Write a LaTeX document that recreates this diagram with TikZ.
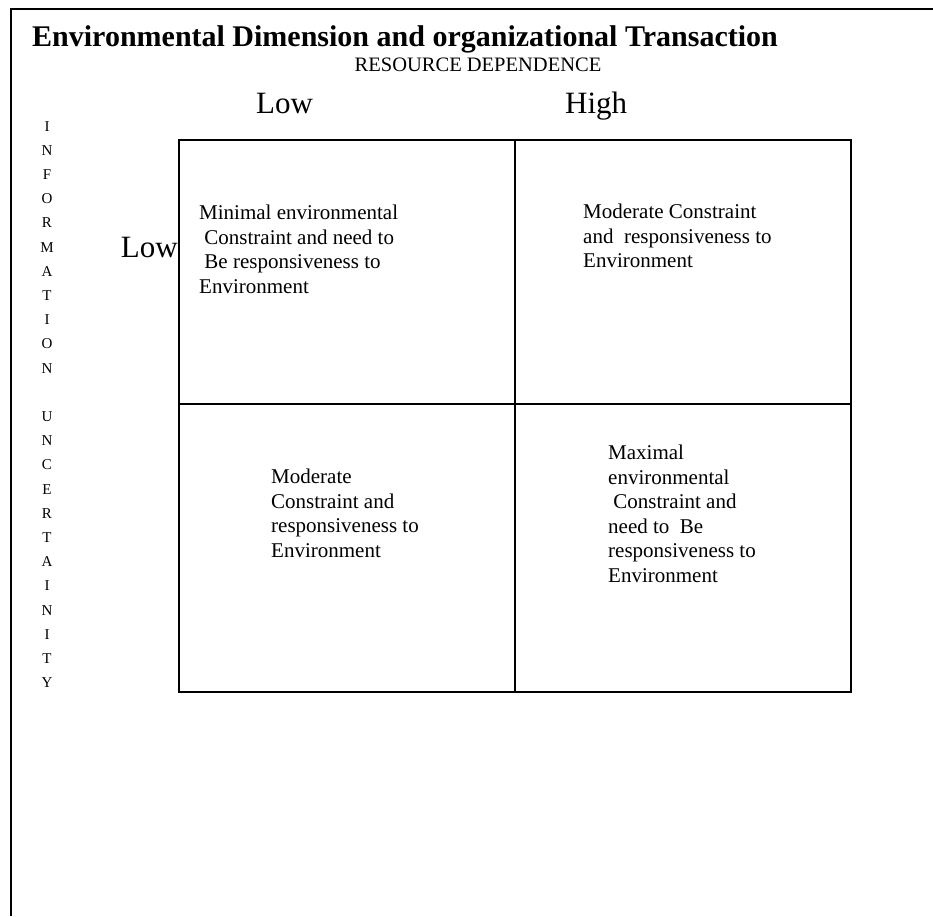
\documentclass[tikz,border=0pt]{standalone}
\usepackage{fontspec}
\setmainfont{Liberation Serif}
\usetikzlibrary{positioning}

\begin{document}
\begin{tikzpicture}[x=1pt, y=-1pt,
    celltext/.style={anchor=north west, inner sep=0pt, align=left, font=\fontsize{21}{24.5}\selectfont},
    level/.style={inner sep=0pt, font=\fontsize{31}{37}\selectfont}]
  \useasboundingbox (0,0) rectangle (933,916);
  % page frame
  \draw[line width=1.6pt] (933,9) -- (11,9) -- (11,916);
  % headings
  \node[anchor=base west, inner sep=0pt, font=\fontsize{30}{36}\selectfont\bfseries] (title) at (32,46) {Environmental Dimension and organizational Transaction};
  \node[anchor=base, inner sep=0pt, font=\fontsize{20.5}{24}\selectfont] (resdep) at (478,71) {RESOURCE DEPENDENCE};
  \node[level, anchor=base west] (rdlow) at (256,113) {Low};
  \node[level, anchor=base west] (rdhigh) at (565,113) {High};
  \node[anchor=north, inner sep=0pt, align=center, font=\fontsize{15}{24.2}\selectfont] (infounc) at (47,121)
    {I\\N\\F\\O\\R\\M\\A\\T\\I\\O\\N\\[24.2pt]U\\N\\C\\E\\R\\T\\A\\I\\N\\I\\T\\Y};
  \node[level, anchor=base east] (iulow) at (178,257) {Low};
  % grid
  \coordinate (gnw) at (179,140);
  \coordinate (gse) at (851,692);
  \coordinate (gtop) at (515,140);
  \coordinate (gbot) at (515,692);
  \coordinate (gleft) at (179,404);
  \coordinate (gright) at (851,404);
  \draw[line width=2pt] (gnw) rectangle (gse);
  \draw[line width=2pt] (gtop) -- (gbot) (gleft) -- (gright);
  % cells
  \node[celltext] (lowlow) at (199,205) {Minimal environmental\\\ Constraint and need to\\\ Be responsiveness to\\Environment};
  \node[celltext] (lowhigh) at (583,204) {Moderate Constraint\\and\ \ responsiveness to\\Environment};
  \node[celltext] (highlow) at (271,469) {Moderate\\Constraint and\\responsiveness to\\Environment};
  \node[celltext] (highhigh) at (608,445) {Maximal\\environmental\\\ Constraint and\\need to\ \ Be\\responsiveness to\\Environment};
\end{tikzpicture}
\end{document}
